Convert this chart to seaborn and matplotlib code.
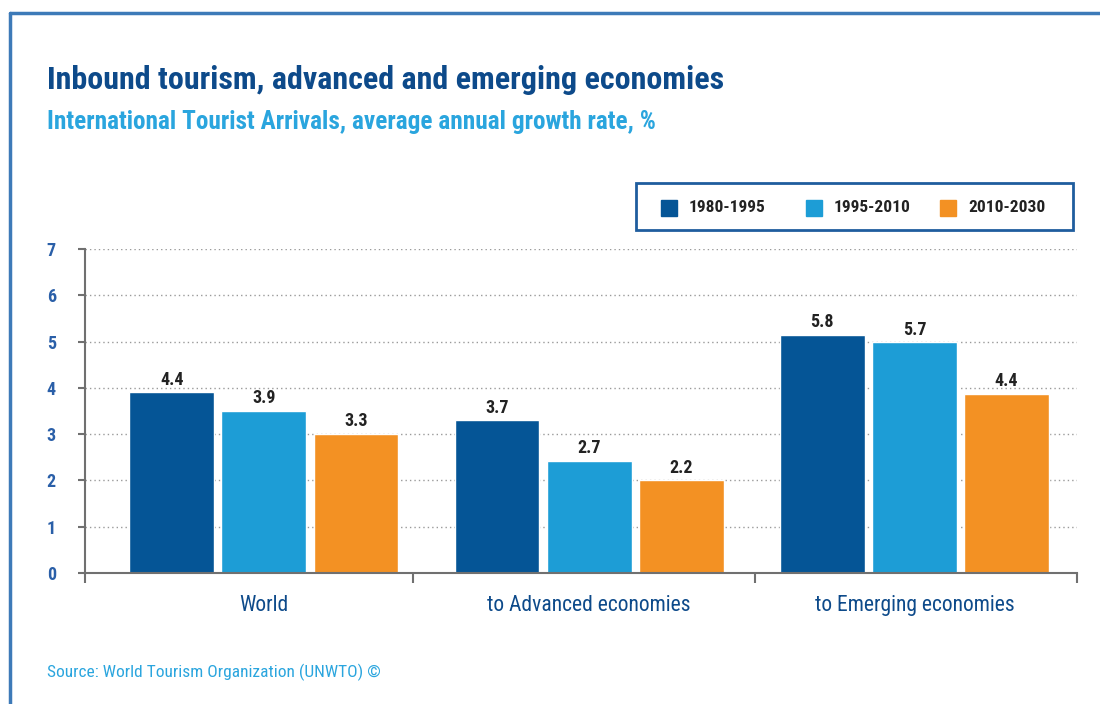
import pandas as pd
import numpy as np
import seaborn as sns
import matplotlib.pyplot as plt
from matplotlib import font_manager
from matplotlib.patches import Rectangle
from matplotlib.lines import Line2D

# data
regions = ["World", "to Advanced economies", "to Emerging economies"]
periods = ["1980-1995", "1995-2010", "2010-2030"]
# bar heights as drawn
h_1980_1995 = [3.9, 3.3, 5.15]
h_1995_2010 = [3.5, 2.42, 4.98]
h_2010_2030 = [3.0, 2.0, 3.87]
# figures printed above the bars
lbl_1980_1995 = ["4.4", "3.7", "5.8"]
lbl_1995_2010 = ["3.9", "2.7", "5.7"]
lbl_2010_2030 = ["3.3", "2.2", "4.4"]
y_ticks = [0, 1, 2, 3, 4, 5, 6, 7]

colors = ["#055596", "#1d9dd6", "#f39123"]
dark_blue = "#0d4a8a"
light_blue = "#2aa5de"

installed = {f.name for f in font_manager.fontManager.ttflist}
narrow = "Liberation Sans"
for name in ["Roboto Condensed", "Archivo Narrow", "PT Sans Narrow"]:
    if name in installed:
        narrow = name
        break

sns.set_style("white")
plt.rcParams['font.family'] = [narrow, 'DejaVu Sans']

df = pd.DataFrame({
    "region": regions * 3,
    "period": [p for p in periods for _ in regions],
    "value": h_1980_1995 + h_1995_2010 + h_2010_2030,
    "label": lbl_1980_1995 + lbl_1995_2010 + lbl_2010_2030,
})

fig = plt.figure(figsize=(11, 7.04), dpi=100)
ax = fig.add_axes([85/1100, 1 - 573/704, (1077 - 85)/1100, (573 - 249)/704])

sns.barplot(data=df, x="region", y="value", hue="period", order=regions,
            hue_order=periods, palette=colors, width=0.85, gap=0.08,
            saturation=1, ax=ax, legend=False)

ax.set_xlim(-0.55, 2.5)
ax.set_ylim(0, 7)
ax.set_yticks(y_ticks)
ax.yaxis.grid(True, linestyle=(0, (1, 2.2)), color="#9a9a9a", linewidth=1)
ax.set_axisbelow(True)
for s in ["top", "right"]:
    ax.spines[s].set_visible(False)
for s in ["left", "bottom"]:
    ax.spines[s].set_color("#707070")
    ax.spines[s].set_linewidth(1.5)
ax.tick_params(axis="y", length=5, width=1.5, color="#707070", pad=16,
               labelsize=13, labelcolor="#2a5fa8", left=True)
for t in ax.get_yticklabels():
    t.set_fontweight("bold")
ax.tick_params(axis="x", length=0, pad=16, labelsize=15.5, labelcolor=dark_blue)
ax.set_xticks([0, 1, 2])
ax.set_xticklabels(regions)
ax.set_xticks([-0.55, 0.46, 1.51, 2.5], minor=True)
ax.tick_params(axis="x", which="minor", length=7, width=1.5, color="#707070",
               direction="out", bottom=True)
ax.set_xlabel("")
ax.set_ylabel("")

# value labels centered over each bar
for i, p in enumerate(periods):
    sub = df[df.period == p].set_index("region").loc[regions]
    for bar, (_, row) in zip(ax.containers[i], sub.iterrows()):
        cx = bar.get_x() + bar.get_width() / 2
        ax.text(cx, bar.get_height() + 0.08, row["label"], ha="center",
                va="bottom", fontsize=13, fontweight="bold", color="#222222")

# titles
fig.text(47/1100, 1 - 80/704, "Inbound tourism, advanced and emerging economies",
         fontsize=23, fontweight="bold", color=dark_blue, va="center")
fig.text(47/1100, 1 - 122/704,
         "International Tourist Arrivals, average annual growth rate, %",
         fontsize=18.2, fontweight="bold", color=light_blue, va="center")
fig.text(47/1100, 1 - 672/704, "Source: World Tourism Organization (UNWTO) \u00a9",
         fontsize=12.5, color=light_blue, va="center")

# legend box
fig.patches.append(Rectangle((636/1100, 1 - 230/704), 437/1100, 47/704,
                             transform=fig.transFigure, fill=False,
                             edgecolor="#1f5d9e", linewidth=2))
for c, p, sx, tx in zip(colors, periods, [661, 806, 940], [689, 834, 968]):
    fig.patches.append(Rectangle((sx/1100, 1 - 216/704), 16/1100, 16/704,
                                 transform=fig.transFigure, color=c))
    fig.text(tx/1100, 1 - 208/704, p, fontsize=12.5, fontweight="bold",
             color="#222222", va="center")

# outer frame, left and top edges
fig.lines.append(Line2D([10/1100, 10/1100], [0, 1 - 13/704], transform=fig.transFigure,
                        color="#3d7ab8", linewidth=2.5))
fig.lines.append(Line2D([10/1100, 1], [1 - 13/704, 1 - 13/704], transform=fig.transFigure,
                        color="#3d7ab8", linewidth=2.5))

fig.savefig("out.png", dpi=100, facecolor="white")
